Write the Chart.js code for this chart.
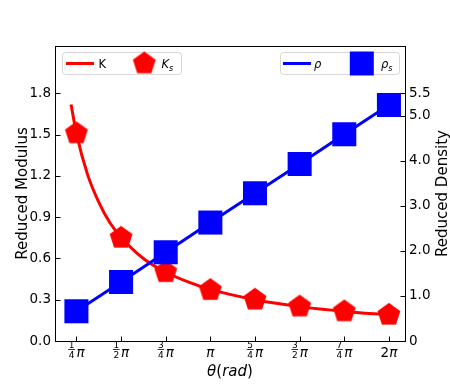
<!DOCTYPE html>
<html>
<head>
<meta charset="utf-8">
<script src="https://cdn.jsdelivr.net/npm/chart.js@4.4.1/dist/chart.umd.min.js"></script>
<style>
  html, body { margin: 0; padding: 0; background: #fff; }
  #wrap { width: 450px; height: 390px; }
</style>
</head>
<body>
<div id="wrap"><canvas id="grafico" width="450" height="390"></canvas></div>
<script>
// Ângulo em múltiplos de pi/4
const thetaQuarters = [1, 2, 3, 4, 5, 6, 7, 8];
const xTickLabels = ['1/4π', '1/2π', '3/4π', 'π', '5/4π', '3/2π', '7/4π', '2π'];

// Módulo reduzido: marcadores (Ks) e curva (K)
const modulusMarkers = [1.51, 0.75, 0.50, 0.37, 0.30, 0.25, 0.215, 0.19];
const curveTheta = [0.88, 1, 1.25, 1.5, 1.75, 2, 2.5, 3, 3.5, 4, 5, 6, 7, 8];
const curveModulus = [1.72, 1.51, 1.21, 1.01, 0.86, 0.755, 0.60, 0.50, 0.43, 0.375, 0.30, 0.25, 0.215, 0.19];

// Densidade reduzida: linha (rho) e marcadores (rho_s)
const densityLine = [0.66, 1.31, 1.97, 2.63, 3.28, 3.93, 4.59, 5.24];
const densityMarkers = [0.66, 1.31, 1.97, 2.63, 3.28, 3.93, 4.59, 5.24];

const leftTicks = [0, 0.3, 0.6, 0.9, 1.2, 1.5, 1.8];
const leftTickLabels = ['0.0', '0.3', '0.6', '0.9', '1.2', '1.5', '1.8'];
const rightTicks = [0, 1, 2, 3, 4, 5, 5.5];
const rightTickLabels = ['0', '1.0', '2.0', '3.0', '4.0', '5.0', '5.5'];

const leftTitle = 'Reduced Modulus';
const rightTitle = 'Reduced Density';

const FONT = '"DejaVu Sans"';
const RED = '#ff0000';
const BLUE = '#0000ff';

// Pentágono como pointStyle (Chart.js não tem esse formato)
function pentagonCanvas(radius, color) {
    const size = 26;
    const c = document.createElement('canvas');
    c.width = size;
    c.height = size;
    const g = c.getContext('2d');
    g.beginPath();
    for (let i = 0; i < 5; i++) {
        const a = -Math.PI / 2 + i * 2 * Math.PI / 5;
        g.lineTo(size / 2 + radius * Math.cos(a), size / 2 + radius * Math.sin(a));
    }
    g.closePath();
    g.fillStyle = color;
    g.fill();
    return c;
}

function fontFor(p, size) {
    return (p.it ? 'italic ' : '') + (p.sub ? size * 0.7 : size) + 'px ' + FONT;
}

function drawRich(ctx, parts, x, y, size, align) {
    let total = 0;
    parts.forEach(p => { ctx.font = fontFor(p, size); total += ctx.measureText(p.t).width; });
    let cx = align === 'center' ? x - total / 2 : x;
    ctx.textAlign = 'left';
    ctx.textBaseline = 'alphabetic';
    parts.forEach(p => {
        ctx.font = fontFor(p, size);
        ctx.fillText(p.t, cx, y + (p.sub ? size * 0.3 : 0));
        cx += ctx.measureText(p.t).width;
    });
}

function parseLabel(label, math) {
    const [base, sub] = label.split('_');
    const parts = [{ t: base, it: math }];
    if (sub) parts.push({ t: sub, it: math, sub: true });
    return parts;
}

function drawPiLabel(ctx, text, cx, baseline) {
    const piFont = 'italic 13.5px ' + FONT;
    const fracFont = '9px ' + FONT;
    const m = text.match(/^(\d)\/(\d)π$/);
    ctx.fillStyle = '#000';
    if (m) {
        ctx.font = fracFont;
        const fw = Math.max(ctx.measureText(m[1]).width, ctx.measureText(m[2]).width) + 1;
        ctx.font = piFont;
        const pw = ctx.measureText('π').width;
        const gap = 1.5;
        const x0 = cx - (fw + gap + pw) / 2;
        const barY = baseline - 7;
        ctx.font = fracFont;
        ctx.textAlign = 'center';
        ctx.textBaseline = 'alphabetic';
        ctx.fillText(m[1], x0 + fw / 2, barY - 1.2);
        ctx.fillText(m[2], x0 + fw / 2, barY + 8);
        ctx.fillRect(x0, barY - 0.4, fw, 0.8);
        ctx.font = piFont;
        ctx.textAlign = 'left';
        ctx.fillText('π', x0 + fw + gap, baseline);
    } else {
        const parts = [];
        const num = text.replace('π', '');
        if (num) parts.push({ t: num });
        parts.push({ t: 'π', it: true });
        drawRich(ctx, parts, cx, baseline, 13.5, 'center');
    }
}

// Plugin: moldura, ticks para dentro, rótulos do eixo x, títulos e legendas
const framePlugin = {
    id: 'frame',
    afterDraw(chart) {
        const ctx = chart.ctx;
        const area = chart.chartArea;
        const xs = chart.scales.x, yl = chart.scales.yL, yr = chart.scales.yR;
        ctx.save();
        ctx.strokeStyle = '#000';
        ctx.lineWidth = 1;

        const left = Math.round(area.left) + 0.5;
        const right = Math.round(area.right) + 0.5;
        const top = Math.round(area.top) + 0.5;
        const bottom = Math.round(area.bottom) + 0.5;
        ctx.strokeRect(left, top, right - left, bottom - top);

        ctx.beginPath();
        thetaQuarters.forEach(v => {
            const px = Math.round(xs.getPixelForValue(v)) + 0.5;
            ctx.moveTo(px, bottom);
            ctx.lineTo(px, bottom - 5);
        });
        leftTicks.forEach(v => {
            const py = Math.round(yl.getPixelForValue(v)) + 0.5;
            ctx.moveTo(left, py);
            ctx.lineTo(left + 5, py);
        });
        rightTicks.forEach(v => {
            const py = Math.round(yr.getPixelForValue(v)) + 0.5;
            ctx.moveTo(right, py);
            ctx.lineTo(right - 5, py);
        });
        ctx.stroke();

        // rótulos do eixo x com frações
        thetaQuarters.forEach((v, i) => {
            drawPiLabel(ctx, xTickLabels[i], xs.getPixelForValue(v), 356.5);
        });

        // títulos
        ctx.fillStyle = '#000';
        drawRich(ctx, [{ t: 'θ', it: true }, { t: '(' }, { t: 'rad', it: true }, { t: ')' }],
            (area.left + area.right) / 2, 376, 15, 'center');

        const midY = (area.top + area.bottom) / 2;
        [[leftTitle, 27], [rightTitle, 447]].forEach(([txt, bx]) => {
            ctx.save();
            ctx.translate(bx, midY);
            ctx.rotate(-Math.PI / 2);
            ctx.font = '15px ' + FONT;
            ctx.textAlign = 'center';
            ctx.textBaseline = 'alphabetic';
            ctx.fillText(txt, 0, 0);
            ctx.restore();
        });

        // legendas
        const ds = chart.data.datasets;
        const legends = [
            { box: [62.5, 52.5, 119, 22], line: 3, marker: 2, lineX: 66, lineText: 98.5, markX: 144.3, markText: 161.5 },
            { box: [280.5, 52.5, 119, 22], line: 1, marker: 0, lineX: 283, lineText: 314, markX: 361.8, markText: 381 }
        ];
        legends.forEach(lg => {
            const [bx, by, bw, bh] = lg.box;
            ctx.beginPath();
            ctx.roundRect(bx, by, bw, bh, 3);
            ctx.fillStyle = 'rgba(255,255,255,0.8)';
            ctx.fill();
            ctx.lineWidth = 1;
            ctx.strokeStyle = 'rgba(204,204,204,0.8)';
            ctx.stroke();

            const ly = by + 11;
            const lineDs = ds[lg.line];
            ctx.strokeStyle = lineDs.borderColor;
            ctx.lineWidth = 3;
            ctx.beginPath();
            ctx.moveTo(lg.lineX, ly);
            ctx.lineTo(lg.lineX + 28, ly);
            ctx.stroke();
            ctx.fillStyle = '#000';
            drawRich(ctx, parseLabel(lineDs.label, lineDs.math), lg.lineText, ly + 4, 11.5, 'left');

            const markDs = ds[lg.marker];
            if (typeof markDs.pointStyle === 'object') {
                const img = markDs.pointStyle;
                ctx.drawImage(img, lg.markX - img.width / 2, ly - img.height / 2);
            } else {
                ctx.fillStyle = markDs.pointBackgroundColor;
                ctx.fillRect(lg.markX - 12, ly - 12, 24, 24);
            }
            ctx.fillStyle = '#000';
            drawRich(ctx, parseLabel(markDs.label, markDs.math), lg.markText, ly + 4, 11.5, 'left');
        });

        ctx.restore();
    }
};

function initChart() {
    const ctx = document.getElementById('grafico').getContext('2d');
    const pentagon = pentagonCanvas(12, RED);

    new Chart(ctx, {
        type: 'line',
        data: {
            datasets: [
                {
                    label: 'ρ_s', math: true,
                    data: thetaQuarters.map((t, i) => ({ x: t, y: densityMarkers[i] })),
                    yAxisID: 'yR', showLine: false,
                    pointStyle: 'rect', pointRadius: 17,
                    pointBackgroundColor: BLUE, pointBorderWidth: 0,
                    order: 0
                },
                {
                    label: 'ρ', math: true,
                    data: thetaQuarters.map((t, i) => ({ x: t, y: densityLine[i] })),
                    yAxisID: 'yR',
                    borderColor: BLUE, borderWidth: 3, pointRadius: 0, tension: 0,
                    order: 1
                },
                {
                    label: 'K_s', math: true,
                    data: thetaQuarters.map((t, i) => ({ x: t, y: modulusMarkers[i] })),
                    yAxisID: 'yL', showLine: false,
                    pointStyle: pentagon, pointRadius: 13,
                    order: 2
                },
                {
                    label: 'K', math: false,
                    data: curveTheta.map((t, i) => ({ x: t, y: curveModulus[i] })),
                    yAxisID: 'yL',
                    borderColor: RED, borderWidth: 3, pointRadius: 0,
                    cubicInterpolationMode: 'monotone',
                    order: 3
                }
            ]
        },
        options: {
            responsive: false,
            animation: false,
            events: [],
            layout: { padding: { top: 46, left: 0, right: 0, bottom: 0 } },
            plugins: {
                legend: { display: false },
                tooltip: { enabled: false }
            },
            scales: {
                x: {
                    type: 'linear', min: 0.52, max: 8.36,
                    ticks: { display: false },
                    grid: { display: false, drawTicks: false },
                    border: { display: false },
                    afterFit: s => { s.height = 49; }
                },
                yL: {
                    position: 'left', min: 0, max: 2.145,
                    grid: { display: false, drawTicks: false },
                    border: { display: false },
                    afterBuildTicks: s => { s.ticks = leftTicks.map(v => ({ value: v })); },
                    ticks: {
                        color: '#000', padding: 4,
                        font: { family: 'DejaVu Sans', size: 13.5 },
                        callback: (v, i) => leftTickLabels[i]
                    },
                    afterFit: s => { s.width = 55; }
                },
                yR: {
                    position: 'right', min: 0, max: 6.55,
                    grid: { display: false, drawTicks: false },
                    border: { display: false },
                    afterBuildTicks: s => { s.ticks = rightTicks.map(v => ({ value: v })); },
                    ticks: {
                        color: '#000', padding: 4,
                        font: { family: 'DejaVu Sans', size: 13.5 },
                        callback: (v, i) => rightTickLabels[i]
                    },
                    afterFit: s => { s.width = 45; }
                }
            }
        },
        plugins: [framePlugin]
    });
}

document.addEventListener('DOMContentLoaded', initChart);
</script>
</body>
</html>
